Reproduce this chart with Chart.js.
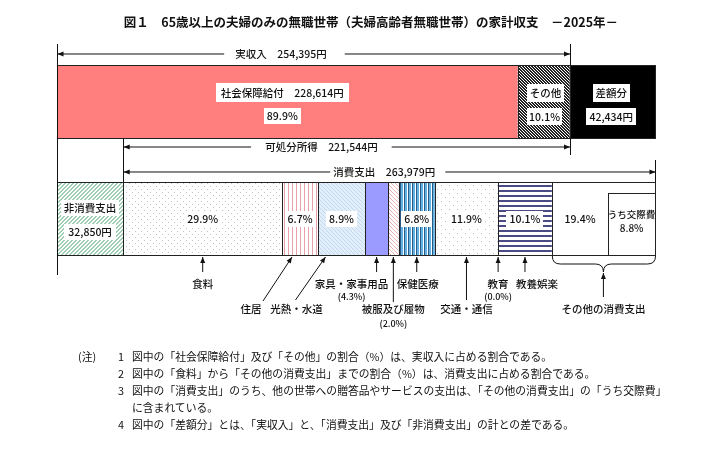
<!DOCTYPE html>
<html lang="ja">
<head>
<meta charset="utf-8">
<title>夫婦高齢者無職世帯の家計収支 2025年</title>
<script src="https://cdn.jsdelivr.net/npm/chart.js@4.4.1/dist/chart.umd.min.js"></script>
<style>
  html, body { margin: 0; padding: 0; background: #fff; }
  body {
    width: 713px; height: 452px; position: relative; overflow: hidden;
    font-family: "Noto Sans CJK JP", sans-serif; color: #111;
  }
  #wrap { position: absolute; left: 0; top: 0; width: 713px; height: 452px; }
  #title {
    position: absolute; left: 0; top: 14px; width: 742px; margin: 0;
    text-align: center; font-size: 12.5px; line-height: 16px; font-weight: bold;
    white-space: pre;
  }
  #notes {
    position: absolute; left: 78px; top: 348px; font-size: 10.8px; line-height: 17px;
    color: #111;
  }
  #notes .head { position: absolute; left: 0; top: 0; }
  #notes .row { position: relative; padding-left: 54px; white-space: nowrap; }
  #notes .no { position: absolute; left: 40px; top: 0; }
</style>
</head>
<body>
<div id="wrap"><canvas id="budget-chart"></canvas></div>
<div id="title">図１　65歳以上の夫婦のみの無職世帯（夫婦高齢者無職世帯）の家計収支　－2025年－</div>
<div id="notes">
  <span class="head">(注)</span>
  <div class="row"><span class="no">1</span>図中の「社会保障給付」及び「その他」の割合（%）は、実収入に占める割合である。</div>
  <div class="row"><span class="no">2</span>図中の「食料」から「その他の消費支出」までの割合（%）は、消費支出に占める割合である。</div>
  <div class="row"><span class="no">3</span>図中の「消費支出」のうち、他の世帯への贈答品やサービスの支出は、「その他の消費支出」の「うち交際費」<br>に含まれている。</div>
  <div class="row"><span class="no">4</span>図中の「差額分」とは、「実収入」と、「消費支出」及び「非消費支出」の計との差である。</div>
</div>
<script>
(() => {
  // 収入側
  const realIncome = 254395;
  const incomeNames = ['社会保障給付', 'その他'];
  const incomeYen = [228614, 25781];
  const incomeShares = [89.9, 10.1];
  const gapYen = 42434;

  // 支出側
  const nonSpendYen = 32850;
  const disposableYen = 221544;
  const spendYen = 263979;
  const spendNames = ['食料', '住居', '光熱・水道', '家具・家事用品', '被服及び履物',
    '保健医療', '交通・通信', '教育', '教養娯楽', 'その他の消費支出'];
  const spendShares = [29.9, 6.7, 8.9, 4.3, 2.0, 6.8, 11.9, 0.0, 10.1, 19.4];
  const socialShare = 8.8; // うち交際費

  const FONT = '"Noto Sans CJK JP", sans-serif';
  const WEIGHT = '500 ';

  function makePattern(w, h, bg, draw) {
    const c = document.createElement('canvas');
    c.width = w;
    c.height = h;
    const g = c.getContext('2d');
    g.fillStyle = bg;
    g.fillRect(0, 0, w, h);
    draw(g);
    return g.createPattern(c, 'repeat');
  }
  function px(g, color, pts) {
    g.fillStyle = color;
    pts.forEach(([x, y]) => g.fillRect(x, y, 1, 1));
  }
  const back = (n, thick) => {
    const pts = [];
    for (let i = 0; i < n; i++) {
      for (let t = 0; t < thick; t++) pts.push([(i + t) % n, i]);
    }
    return pts;
  };
  const fwd = (n, thick) => back(n, thick).map(([x, y]) => [x, n - 1 - y]);

  const hatchDark = makePattern(3, 3, '#fff', (g) => px(g, '#222', back(3, 2)));
  const hatchGreen = makePattern(4, 4, '#fff', (g) => px(g, '#9fceb2', fwd(4, 2)));
  const dotsFood = makePattern(6, 6, '#fff', (g) => px(g, '#c2c2c2', [[0, 0], [3, 3]]));
  const stripeHouse = makePattern(4, 4, '#fff', (g) => px(g, '#e8a0aa', [[0, 0], [0, 1], [0, 2], [0, 3]]));
  const hatchUtil = makePattern(4, 4, '#e2eef9', (g) => px(g, '#c2d9ee', back(4, 1)));
  const hatchCloth = makePattern(4, 4, '#fff', (g) => px(g, '#eeb0b0', back(4, 1)));
  const stripeHealth = makePattern(4, 4, '#fff', (g) => {
    g.fillStyle = '#2a5b86';
    g.fillRect(0, 0, 1, 4);
    g.fillStyle = '#62b3e3';
    g.fillRect(1, 0, 2, 4);
  });
  const dotsTrans = makePattern(8, 8, '#fff', (g) => px(g, '#b3bacb', [[1, 1], [5, 5]]));
  const stripeCulture = makePattern(5, 5, '#fff', (g) => {
    g.fillStyle = '#4a4a84';
    g.fillRect(0, 0, 5, 2);
  });

  const incomeFills = ['#ff7f7f', hatchDark];
  const spendFills = [dotsFood, stripeHouse, hatchUtil, '#9a9aff', hatchCloth,
    stripeHealth, dotsTrans, '#fff', stripeCulture, '#fff'];

  const datasets = [];
  incomeNames.forEach((name, i) => {
    datasets.push({ label: name, data: [incomeYen[i], null], backgroundColor: incomeFills[i] });
  });
  datasets.push({ label: '差額分', data: [gapYen, null], backgroundColor: '#000' });
  datasets.push({ label: '非消費支出', data: [null, nonSpendYen], backgroundColor: hatchGreen });
  spendNames.forEach((name, i) => {
    datasets.push({ label: name, data: [null, spendShares[i] / 100 * spendYen], backgroundColor: spendFills[i] });
  });
  const SPEND0 = 4; // first consumption dataset

  function tag(ctx, text, cx, cy, size, padX, h) {
    ctx.font = WEIGHT + size + 'px ' + FONT;
    const w = ctx.measureText(text).width + padX * 2;
    ctx.fillStyle = '#fff';
    ctx.fillRect(Math.round(cx - w / 2), Math.round(cy - h / 2), Math.round(w), h);
    ctx.fillStyle = '#111';
    ctx.textAlign = 'center';
    ctx.textBaseline = 'middle';
    ctx.fillText(text, cx, cy + 0.5);
  }
  function text(ctx, str, cx, cy, size) {
    ctx.font = WEIGHT + size + 'px ' + FONT;
    ctx.fillStyle = '#111';
    ctx.textAlign = 'center';
    ctx.textBaseline = 'middle';
    ctx.fillText(str, cx, cy);
  }
  function line(ctx, x1, y1, x2, y2) {
    ctx.beginPath();
    ctx.moveTo(x1, y1);
    ctx.lineTo(x2, y2);
    ctx.stroke();
  }
  function arrow(ctx, x1, y1, x2, y2) {
    line(ctx, x1, y1, x2, y2);
    const a = Math.atan2(y2 - y1, x2 - x1);
    const len = 6, hw = 2.5;
    ctx.beginPath();
    ctx.moveTo(x2, y2);
    ctx.lineTo(x2 - len * Math.cos(a) + hw * Math.sin(a), y2 - len * Math.sin(a) - hw * Math.cos(a));
    ctx.lineTo(x2 - len * Math.cos(a) - hw * Math.sin(a), y2 - len * Math.sin(a) + hw * Math.cos(a));
    ctx.closePath();
    ctx.fill();
  }
  function span(ctx, x1, x2, y, str, frac, gapL, gapR) {
    ctx.font = WEIGHT + '10.5px ' + FONT;
    const w = ctx.measureText(str).width;
    const cx = x1 + (x2 - x1) * frac;
    arrow(ctx, cx - w / 2 - gapL, y, x1, y);
    arrow(ctx, cx + w / 2 + gapR, y, x2, y);
    text(ctx, str, cx, y, 10.5);
  }
  const box = (el) => {
    const left = Math.min(el.base, el.x);
    const right = Math.max(el.base, el.x);
    const top = el.y - el.height / 2;
    return { left, right, top, bottom: top + el.height, cx: (left + right) / 2, cy: el.y };
  };
  const yen = (v) => v.toLocaleString('en-US') + '円';

  const annotate = {
    id: 'annotate',
    afterDatasetsDraw(chart) {
      const ctx = chart.ctx;
      const xs = chart.scales.x;
      const seg = (i) => box(chart.getDatasetMeta(i).data[i < 3 ? 0 : 1]);
      ctx.save();

      // 枠線
      ctx.strokeStyle = '#222';
      ctx.lineWidth = 1;
      datasets.forEach((d, i) => {
        const b = seg(i);
        ctx.strokeRect(Math.round(b.left) + 0.5, Math.round(b.top) + 0.5,
          Math.round(b.right) - Math.round(b.left), Math.round(b.bottom) - Math.round(b.top));
      });
      const other = seg(SPEND0 + 9);
      const innerLeft = xs.getPixelForValue(nonSpendYen + spendYen * (1 - socialShare / 100));
      ctx.strokeRect(Math.round(innerLeft) + 0.5, Math.round(other.top + 11) + 0.5,
        Math.round(other.right) - Math.round(innerLeft), Math.round(other.bottom - other.top - 11));

      // 寸法線
      const top = seg(0);
      const mid = seg(3);
      const x0 = xs.getPixelForValue(0);
      const xInc = xs.getPixelForValue(realIncome);
      const xNon = xs.getPixelForValue(nonSpendYen);
      const xEnd = xs.getPixelForValue(nonSpendYen + spendYen);
      const xDisp = xs.getPixelForValue(nonSpendYen + disposableYen);
      ctx.fillStyle = '#111';
      ctx.strokeStyle = '#111';
      const v = (x, y1, y2) => line(ctx, Math.round(x) + 0.5, y1, Math.round(x) + 0.5, y2);
      v(x0, top.top - 21, mid.bottom + 20);
      v(xInc, top.top - 21, top.top);
      v(xInc, top.bottom, top.bottom + 17);
      v(xNon, top.bottom, mid.top);
      v(xEnd, mid.top - 22, mid.top);
      span(ctx, x0 + 0.5, xInc + 0.5, top.top - 11, '実収入　' + yen(realIncome), 0.436, 11, 18);
      span(ctx, xNon + 0.5, xDisp + 0.5, top.bottom + 9, '可処分所得　' + yen(disposableYen), 0.443, 14, 14);
      span(ctx, xNon + 0.5, xEnd + 0.5, mid.top - 10, '消費支出　' + yen(spendYen), 0.49, 3, 10);

      // 収入側ラベル
      const ss = seg(0);
      tag(ctx, incomeNames[0] + '　' + yen(incomeYen[0]), ss.cx - 5, ss.cy - 9, 10.5, 5, 19);
      tag(ctx, incomeShares[0].toFixed(1) + '%', ss.cx - 5, ss.cy + 14, 10.5, 3, 16);
      const so = seg(1);
      tag(ctx, incomeNames[1], so.cx + 2, so.cy - 9, 10.5, 3, 18);
      tag(ctx, incomeShares[1].toFixed(1) + '%', so.cx + 1, so.cy + 15, 10.5, 2, 17);
      const sg = seg(2);
      tag(ctx, '差額分', sg.cx - 1, sg.cy - 9, 10.5, 3, 18);
      tag(ctx, yen(gapYen), sg.cx - 1, sg.cy + 15, 10.5, 3, 17);

      // 支出側ラベル
      const sn = seg(3);
      tag(ctx, '非消費支出', sn.cx, sn.cy - 11, 10.5, 3, 16);
      tag(ctx, yen(nonSpendYen), sn.cx, sn.cy + 13, 10.5, 4, 16);
      [0, 1, 2, 5, 6, 8].forEach((i) => {
        const b = seg(SPEND0 + i);
        tag(ctx, spendShares[i].toFixed(1) + '%', b.cx, b.cy, 10.5, 3, 16);
      });
      tag(ctx, spendShares[9].toFixed(1) + '%', (other.left + innerLeft) / 2, other.cy, 10.5, 3, 16);
      const ic = (innerLeft + other.right) / 2;
      text(ctx, 'うち交際費', ic, other.cy - 4, 9.5);
      text(ctx, socialShare.toFixed(1) + '%', ic, other.cy + 10, 10);

      // 引出し線と項目名
      const y0 = mid.bottom + 2;
      const callouts = [
        { i: 0, tip: 0, tail: [0, 15], at: [0, 27] },
        { i: 1, tip: -8, tail: [-37, 44], at: [-49, 52] },
        { i: 2, tip: -16, tail: [-46, 43], at: [-45, 52] },
        { i: 3, tip: 0, tail: [0, 15], at: [-25, 27], sub: [-25, 40] },
        { i: 4, tip: 0, tail: [0, 45], at: [0, 52], sub: [0, 67] },
        { i: 5, tip: 0, tail: [0, 15], at: [1, 27] },
        { i: 6, tip: 0, tail: [0, 43], at: [0, 52] },
        { i: 7, tip: 0, tail: [0, 15], at: [0, 27], sub: [0, 40] },
        { i: 8, tip: 0, tail: [0, 15], at: [12, 27] },
      ];
      callouts.forEach((c) => {
        const b = seg(SPEND0 + c.i);
        const cx = b.cx;
        arrow(ctx, cx + c.tail[0], y0 + c.tail[1], cx + c.tip, y0);
        text(ctx, spendNames[c.i], cx + c.at[0], y0 + c.at[1], 10.5);
        if (c.sub) text(ctx, '(' + spendShares[c.i].toFixed(1) + '%)', cx + c.sub[0], y0 + c.sub[1], 9);
      });

      // その他の消費支出の括弧
      const bx1 = other.left + 0.5, bx2 = other.right + 0.5, bc = other.cx;
      const t = mid.bottom + 1, m = t + 8, bt = t + 16, r = 8;
      ctx.beginPath();
      ctx.moveTo(bx1, t);
      ctx.quadraticCurveTo(bx1, m, bx1 + r, m);
      ctx.lineTo(bc - r, m);
      ctx.quadraticCurveTo(bc, m, bc, bt);
      ctx.quadraticCurveTo(bc, m, bc + r, m);
      ctx.lineTo(bx2 - r, m);
      ctx.quadraticCurveTo(bx2, m, bx2, t);
      ctx.stroke();
      arrow(ctx, bc, y0 + 40, bc, bt + 1);
      text(ctx, spendNames[9], bc, y0 + 52, 10.5);

      ctx.restore();
    },
  };

  new Chart(document.getElementById('budget-chart'), {
    type: 'bar',
    data: { labels: ['収入', '支出'], datasets: datasets },
    options: {
      indexAxis: 'y',
      responsive: true,
      maintainAspectRatio: false,
      animation: false,
      layout: { padding: { left: 57, right: 58, top: 43, bottom: 175 } },
      datasets: { bar: { barPercentage: 0.624, categoryPercentage: 1, borderWidth: 0 } },
      scales: {
        x: { stacked: true, min: 0, max: realIncome + gapYen, display: false },
        y: { stacked: true, display: false },
      },
      plugins: { legend: { display: false }, tooltip: { enabled: false } },
    },
    plugins: [annotate],
  });
})();
</script>
</body>
</html>
